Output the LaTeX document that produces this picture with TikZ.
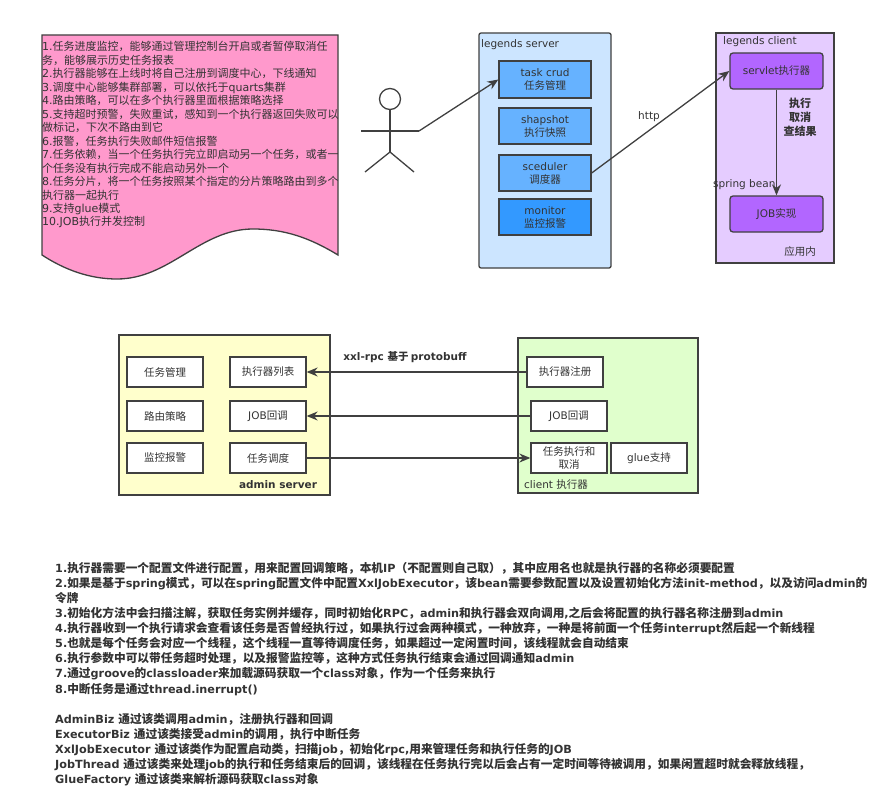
\documentclass[tikz,border=0pt]{standalone}
\usepackage{fontspec}
\usetikzlibrary{arrows.meta}
\setmainfont{DejaVu Sans}
\newfontfamily\latinfont{DejaVu Sans}
\newfontfamily\notelatin[Scale=0.96]{DejaVu Sans}
\newfontfamily\cjkfont{Noto Sans CJK SC}
% Chinese characters switch to the CJK family on their own
\XeTeXinterchartokenstate=1
\newXeTeXintercharclass\cjkclass
\count255="3000
\loop\XeTeXcharclass\count255=\cjkclass\ifnum\count255<"303F\advance\count255 by 1\repeat
\count255="4E00
\loop\XeTeXcharclass\count255=\cjkclass\ifnum\count255<"9FFF\advance\count255 by 1\repeat
\count255="FF00
\loop\XeTeXcharclass\count255=\cjkclass\ifnum\count255<"FF60\advance\count255 by 1\repeat
\XeTeXinterchartoks 0 \cjkclass={\cjkfont}
\XeTeXinterchartoks 4095 \cjkclass={\cjkfont}
\XeTeXinterchartoks \cjkclass 0={\latinfont}
\XeTeXinterchartoks 4095 0={\latinfont}
\definecolor{linegray}{HTML}{404040}
\definecolor{textgray}{HTML}{333333}
\definecolor{docpink}{HTML}{FF99CC}
\definecolor{serverblue}{HTML}{CCE5FF}
\definecolor{taskblue}{HTML}{66B2FF}
\definecolor{monitorblue}{HTML}{3399FF}
\definecolor{clientlilac}{HTML}{E5CCFF}
\definecolor{beanviolet}{HTML}{B266FF}
\definecolor{adminyellow}{HTML}{FFFFCC}
\definecolor{execgreen}{HTML}{E0FFCC}
\tikzset{
	label10/.style={text=textgray,inner sep=0pt,font=\fontsize{10.5}{13}\selectfont,align=center},
	labelbold/.style={label10,font=\fontsize{10.5}{14}\selectfont\bfseries},
	group/.style={draw=linegray,line width=1.3pt},
	blk/.style={group,label10},
	whitebox/.style={blk,fill=white,minimum width=76pt,minimum height=30pt},
	flow/.style={draw=linegray,line width=1.3pt,-{Stealth[length=11pt,width=9pt]}},
	notes/.style={inner sep=0pt,anchor=north west,align=left,text=textgray},
	bignotes/.style={notes,font=\let\latinfont\notelatin\fontsize{11.7}{15.08}\selectfont\bfseries},
}
\begin{document}
\begin{tikzpicture}[x=1pt,y=-1pt]
	\useasboundingbox (0,0) rectangle (876,808);

	% task sheet
	\draw[group,fill=docpink] (42,35) -- (338,35) -- (338,255)
		.. controls (310,238) and (285,229) .. (253,229)
		.. controls (200,229) and (170,279) .. (117,279)
		.. controls (90,279) and (65,270) .. (42,255) -- cycle;
	\node[notes,font=\fontsize{11}{13.46}\selectfont] (sheet) at (42,41.5) {%
		1.任务进度监控，能够通过管理控制台开启或者暂停取消任\\
		务，能够展示历史任务报表\\
		2.执行器能够在上线时将自己注册到调度中心，下线通知\\
		3.调度中心能够集群部署，可以依托于quarts集群\\
		4.路由策略，可以在多个执行器里面根据策略选择\\
		5.支持超时预警，失败重试，感知到一个执行器返回失败可以\\
		做标记，下次不路由到它\\
		6.报警，任务执行失败邮件短信报警\\
		7.任务依赖，当一个任务执行完立即启动另一个任务，或者一\\
		个任务没有执行完成不能启动另外一个\\
		8.任务分片，将一个任务按照某个指定的分片策略路由到多个\\
		执行器一起执行\\
		9.支持glue模式\\
		10.JOB执行并发控制};

	% actor
	\draw[group] (390,99) circle (10.5);
	\coordinate (hand) at (419,131);
	\draw[group] (390,110) -- (390,152) (361,131) -- (hand);
	\draw[group] (365,172) -- (390,152) -- (414,172);

	% legends server
	\draw[group,fill=serverblue,rounded corners=2pt] (479,33) rectangle (611,268);
	\node[label10,anchor=west] (servertitle) at (481,45) {legends server};
	\node[blk,fill=taskblue,minimum width=92pt,minimum height=37pt] (crud) at (545,79.5) {task crud\\任务管理};
	\node[blk,fill=taskblue,minimum width=92pt,minimum height=36pt] (snapshot) at (545,126) {shapshot\\执行快照};
	\node[blk,fill=taskblue,minimum width=92pt,minimum height=36pt] (sceduler) at (545,173) {sceduler\\调度器};
	\node[blk,fill=monitorblue,minimum width=92pt,minimum height=36pt] (monitor) at (545,217) {monitor\\监控报警};

	% legends client
	\draw[group,fill=clientlilac] (716,33) rectangle (834,263);
	\node[label10,anchor=west] (clienttitle) at (723,42) {legends client};
	\node[blk,fill=beanviolet,rounded corners=3pt,minimum width=93pt,minimum height=36pt] (servlet) at (776.5,71) {servlet执行器};
	\node[blk,fill=beanviolet,rounded corners=3pt,minimum width=93pt,minimum height=36pt] (job) at (776.5,214) {JOB实现};
	\node[labelbold,font=\fontsize{11}{14}\selectfont\bfseries] (action) at (800,117) {执行\\取消\\查结果};
	\node[label10,anchor=west] (bean) at (713,185) {spring bean};
	\node[label10] (inapp) at (800,252) {应用内};

	\draw[flow] (hand) -- (crud.west);
	\draw[flow] (sceduler.east) -- (servlet.west);
	\draw[flow] (servlet) -- (job);
	\node[label10] (http) at (649,117) {http};

	% admin server
	\draw[group,fill=adminyellow] (119,335) rectangle (330,495);
	\foreach \name/\x/\y/\txt in {tasks/165/372/任务管理,route/165/416/路由策略,alarm/165/458/监控报警,
		list/268/372/执行器列表,back/268/416/JOB回调,plan/268/458/任务调度}
		\node[whitebox] (\name) at (\x,\y) {\txt};
	\node[labelbold] (admintitle) at (278,485) {admin server};

	% client side
	\draw[group,fill=execgreen] (518,338) rectangle (698,493);
	\node[whitebox] (register) at (565,372) {执行器注册};
	\node[whitebox] (callback) at (569,416) {JOB回调};
	\node[whitebox] (run) at (569,458) {任务执行和\\取消};
	\node[whitebox] (glue) at (649,458) {glue支持};
	\node[label10,anchor=west] (execname) at (524,485) {client 执行器};

	\draw[flow] (register) -- (list);
	\draw[flow] (callback) -- (back);
	\draw[flow] (plan) -- (run);
	\node[labelbold] (rpc) at (405,357) {xxl-rpc 基于 protobuff};

	% notes below
	\node[bignotes] (steps) at (55,562) {%
		1.执行器需要一个配置文件进行配置，用来配置回调策略，本机IP（不配置则自己取），其中应用名也就是执行器的名称必须要配置\\
		2.如果是基于spring模式，可以在spring配置文件中配置XxlJobExecutor，该bean需要参数配置以及设置初始化方法init-method，以及访问admin的\\
		令牌\\
		3.初始化方法中会扫描注解，获取任务实例并缓存，同时初始化RPC，admin和执行器会双向调用,之后会将配置的执行器名称注册到admin\\
		4.执行器收到一个执行请求会查看该任务是否曾经执行过，如果执行过会两种模式，一种放弃，一种是将前面一个任务interrupt然后起一个新线程\\
		5.也就是每个任务会对应一个线程，这个线程一直等待调度任务，如果超过一定闲置时间，该线程就会自动结束\\
		6.执行参数中可以带任务超时处理，以及报警监控等，这种方式任务执行结束会通过回调通知admin\\
		7.通过groove的classloader来加载源码获取一个class对象，作为一个任务来执行\\
		8.中断任务是通过thread.inerrupt()};
	\node[bignotes] (classes) at (55,713) {%
		AdminBiz 通过该类调用admin，注册执行器和回调\\
		ExecutorBiz 通过该类接受admin的调用，执行中断任务\\
		XxlJobExecutor 通过该类作为配置启动类，扫描job，初始化rpc,用来管理任务和执行任务的JOB\\
		JobThread 通过该类来处理job的执行和任务结束后的回调，该线程在任务执行完以后会占有一定时间等待被调用，如果闲置超时就会释放线程，\\
		GlueFactory 通过该类来解析源码获取class对象};
\end{tikzpicture}
\end{document}
